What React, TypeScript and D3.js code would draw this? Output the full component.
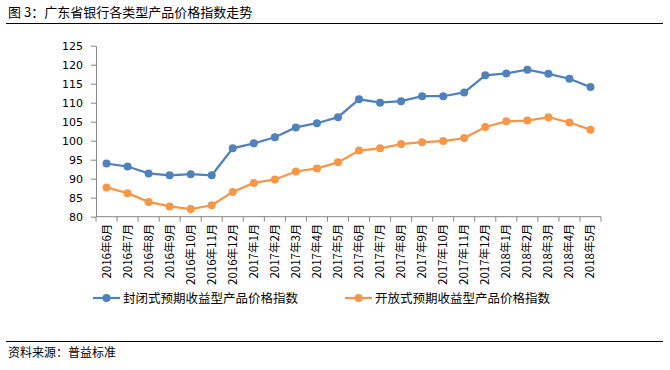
import * as d3 from "d3";
import React from "react";

const months = [
  "2016年6月", "2016年7月", "2016年8月", "2016年9月", "2016年10月", "2016年11月",
  "2016年12月", "2017年1月", "2017年2月", "2017年3月", "2017年4月", "2017年5月",
  "2017年6月", "2017年7月", "2017年8月", "2017年9月", "2017年10月", "2017年11月",
  "2017年12月", "2018年1月", "2018年2月", "2018年3月", "2018年4月", "2018年5月",
];
const closedIndex = [
  94.0, 93.2, 91.4, 90.9, 91.2, 90.9, 98.0, 99.3, 100.9, 103.5, 104.6, 106.2,
  110.9, 110.0, 110.4, 111.7, 111.7, 112.7, 117.2, 117.7, 118.7, 117.6, 116.3, 114.1,
];
const openIndex = [
  87.7, 86.2, 83.9, 82.7, 82.0, 83.0, 86.5, 88.9, 89.8, 91.9, 92.7, 94.3,
  97.4, 98.0, 99.1, 99.6, 99.9, 100.7, 103.6, 105.1, 105.3, 106.2, 104.8, 102.9,
];
const yTicks = [80, 85, 90, 95, 100, 105, 110, 115, 120, 125];
const seriesNames = ["封闭式预期收益型产品价格指数", "开放式预期收益型产品价格指数"];
const colors = ["#4F81BD", "#F79646"];

const W = 670;
const H = 370;
const cjk = "'Noto Sans CJK SC', sans-serif";

export default function App() {
  const svgRef = React.useRef<SVGSVGElement | null>(null);
  React.useEffect(() => {
    const svg = d3.select(svgRef.current);
    svg.selectAll("*").remove();
    const plot = { left: 96, right: 601, top: 45.7, bottom: 216.7 };

    const x = d3.scaleBand<string>().domain(months).range([plot.left, plot.right]);
    const y = d3.scaleLinear().domain([80, 125]).range([plot.bottom, plot.top]);
    const cx = (i: number) => (x(months[i]) ?? 0) + x.bandwidth() / 2;

    // title + rules
    svg.append("text")
      .attr("x", 8).attr("y", 17)
      .attr("font-family", cjk).attr("font-size", 13)
      .text("图 3：广东省银行各类型产品价格指数走势");
    svg.append("line").attr("x1", 6).attr("x2", 663).attr("y1", 23.5).attr("y2", 23.5)
      .attr("stroke", "#000").attr("stroke-width", 1);
    svg.append("line").attr("x1", 6).attr("x2", 663).attr("y1", 341.5).attr("y2", 341.5)
      .attr("stroke", "#000").attr("stroke-width", 1);
    svg.append("text")
      .attr("x", 8).attr("y", 357)
      .attr("font-family", cjk).attr("font-size", 12)
      .text("资料来源：普益标准");

    // y axis
    const yAxis = svg.append("g")
      .attr("transform", `translate(${plot.left},0)`)
      .call(d3.axisLeft(y).tickValues(yTicks).tickSize(5).tickSizeOuter(0).tickPadding(8));
    yAxis.select(".domain").attr("stroke", "#868686");
    yAxis.selectAll(".tick line").attr("stroke", "#868686");
    yAxis.selectAll(".tick text")
      .attr("font-family", "'DejaVu Sans', sans-serif").attr("font-size", 11).attr("fill", "#000");

    // x axis
    const xg = svg.append("g").attr("transform", `translate(0,${plot.bottom})`);
    xg.append("line").attr("x1", plot.left).attr("x2", plot.right)
      .attr("stroke", "#868686");
    const bounds = d3.range(months.length + 1).map((i) => plot.left + i * x.step());
    xg.selectAll("line.tk").data(bounds).join("line").attr("class", "tk")
      .attr("x1", (d) => d).attr("x2", (d) => d).attr("y1", 0).attr("y2", 5)
      .attr("stroke", "#868686");
    xg.selectAll("text").data(months).join("text")
      .attr("transform", (_, i) => `translate(${cx(i) + 4},7) rotate(-90)`)
      .attr("text-anchor", "end")
      .attr("font-family", cjk).attr("font-size", 11.5)
      .text((d) => d);

    // lines
    const line = d3.line<number>().x((_, i) => cx(i)).y((d) => y(d));
    [closedIndex, openIndex].forEach((vals, s) => {
      svg.append("path")
        .attr("d", line(vals) ?? "")
        .attr("fill", "none").attr("stroke", colors[s]).attr("stroke-width", 2.25);
      svg.append("g").selectAll("circle").data(vals).join("circle")
        .attr("cx", (_, i) => cx(i)).attr("cy", (d) => y(d)).attr("r", 4)
        .attr("fill", colors[s]);
    });

    // legend
    const legendX = [93, 345];
    seriesNames.forEach((name, s) => {
      const g = svg.append("g").attr("transform", `translate(${legendX[s]},298)`);
      g.append("line").attr("x1", 0).attr("x2", 27).attr("stroke", colors[s]).attr("stroke-width", 2.25);
      g.append("circle").attr("cx", 13.5).attr("r", 4).attr("fill", colors[s]);
      g.append("text").attr("x", 30).attr("y", 4.5)
        .attr("font-family", cjk).attr("font-size", 12.5)
        .text(name);
    });
  }, []);

  return (
    <svg
      ref={svgRef}
      width={W}
      height={H}
      viewBox={`0 0 ${W} ${H}`}
      style={{ position: "absolute", left: 0, top: 0, background: "#fff" }}
    ></svg>
  );
}
